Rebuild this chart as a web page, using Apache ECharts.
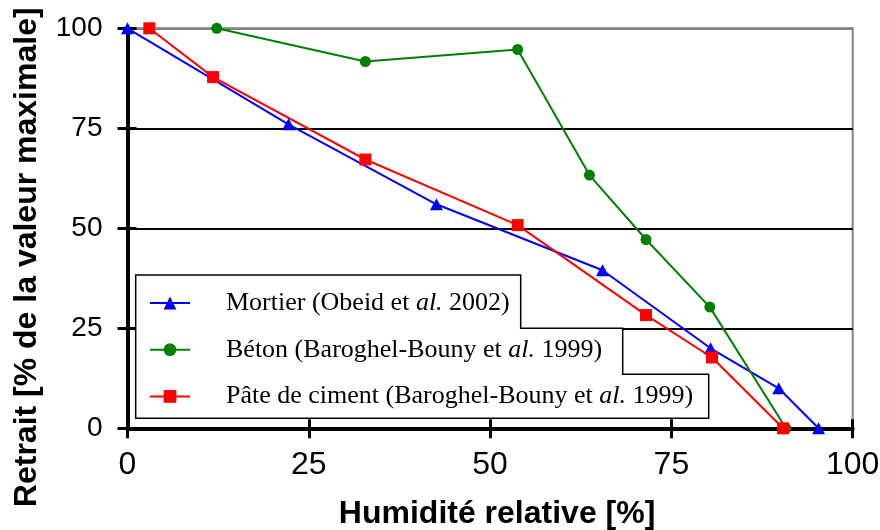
<!DOCTYPE html>
<html>
<head>
<meta charset="utf-8">
<script src="https://cdn.jsdelivr.net/npm/echarts@6/dist/echarts.min.js"></script>
<style>
    html, body { margin: 0; padding: 0; background: #fff; }
    #chart { width: 880px; height: 530px; }
</style>
</head>
<body>
<div id="chart"></div>
<script>
// données
const seriesNames = [
    'Mortier (Obeid et al. 2002)',
    'Béton (Baroghel-Bouny et al. 1999)',
    'Pâte de ciment (Baroghel-Bouny et al. 1999)'
];
const mortierX = [0, 22.2, 42.6, 65.5, 80.4, 89.8, 95.3];
const mortierY = [100, 76, 56, 39.5, 20, 10, 0];
const betonX = [12.3, 32.8, 53.8, 63.7, 71.5, 80.3, 90.8];
const betonY = [100, 91.7, 94.7, 63.3, 47.2, 30.3, 0];
const pateX = [3, 11.8, 32.8, 53.8, 71.5, 80.6, 90.4];
const pateY = [100, 87.8, 67.2, 50.8, 28.3, 17.7, 0];
const axisTicks = [0, 25, 50, 75, 100];

const pairs = (xs, ys) => xs.map((x, i) => [x, ys[i]]);

const sans = '"Liberation Sans", Arial, sans-serif';
const serif = '"Liberation Serif", "Times New Roman", serif';

const chart = echarts.init(document.getElementById('chart'), null, { renderer: 'canvas' });

//axe commun
const baseAxis = {
    type: 'value',
    min: axisTicks[0],
    max: axisTicks[axisTicks.length - 1],
    interval: axisTicks[1] - axisTicks[0],
};

//série
const makeSeries = (name, data, color, symbol, size) => ({
    name,
    type: 'line',
    data,
    clip: false,
    symbol,
    symbolSize: size,
    color,
    lineStyle: { color, width: 2 },
    itemStyle: { color },
    emphasis: { disabled: true },
    z: 3,
});

chart.setOption({
    animation: false,
    backgroundColor: '#fff',
    grid: {
        left: 127.5,
        right: 27.3,
        top: 28.3,
        bottom: 101.7,
        outerBoundsMode: 'none',
        containLabel: false,
        show: true,
        borderColor: '#808080',
        borderWidth: 2,
        backgroundColor: '#fff',
    },
    legend: {
        data: seriesNames,
        orient: 'vertical',
        left: 149,
        top: 289,
        padding: 0,
        itemWidth: 40,
        itemHeight: 16,
        itemGap: 18.7,
        z: 5,
        formatter: name => '{n|' + name.replace(' al.', ' }{i|al.}{n|') + '}',
        textStyle: {
            padding: [0, 0, 0, 31],
            lineHeight: 28,
            rich: {
                n: { fontFamily: serif, fontSize: 26, color: '#000', lineHeight: 28 },
                i: { fontFamily: serif, fontSize: 26, color: '#000', fontStyle: 'italic', lineHeight: 28 },
            },
        },
    },
    //cadre de la légende (en escalier)
    graphic: {
        elements: [{
            type: 'polygon',
            z: 1,
            silent: true,
            shape: {
                points: [
                    [135.7, 275], [520.7, 275], [520.7, 328.3], [622.7, 328.3],
                    [622.7, 374.3], [708.7, 374.3], [708.7, 418.3], [135.7, 418.3]
                ]
            },
            style: { fill: '#fff', stroke: '#000', lineWidth: 1.5 },
        }]
    },
    xAxis: [{
        ...baseAxis,
        name: 'Humidité relative [%]',
        nameLocation: 'middle',
        nameGap: 70,
        nameTextStyle: { fontFamily: sans, fontSize: 32, fontWeight: 'bold', color: '#000', padding: [0, 0, 0, 14] },
        axisLine: { onZero: false, lineStyle: { color: '#000', width: 4 } },
        axisTick: { show: true, length: 10, lineStyle: { color: '#000', width: 3 } },
        axisLabel: { margin: 21, fontFamily: sans, fontSize: 32, color: '#000' },
        splitLine: { show: false },
    }, {
        ...baseAxis,
        position: 'bottom',
        axisLine: { show: false },
        axisTick: { show: true, inside: true, length: 9, lineStyle: { color: '#000', width: 3 } },
        axisLabel: { show: false },
        splitLine: { show: false },
    }],
    yAxis: [{
        ...baseAxis,
        name: 'Retrait [% de la valeur maximale]',
        nameLocation: 'middle',
        nameGap: 84,
        nameTextStyle: { fontFamily: sans, fontSize: 32, fontWeight: 'bold', color: '#000', padding: [0, 58, 0, 0] },
        axisLine: { onZero: false, lineStyle: { color: '#000', width: 4 } },
        axisTick: { show: true, length: 10, lineStyle: { color: '#000', width: 3 } },
        axisLabel: { margin: 25, fontFamily: sans, fontSize: 28, color: '#000' },
        splitLine: {
            show: true,
            lineStyle: { color: ['#000', '#000', '#000', '#000', '#808080'], width: 2 }
        },
    }, {
        ...baseAxis,
        position: 'left',
        axisLine: { show: false },
        axisTick: { show: true, inside: true, length: 9, lineStyle: { color: '#000', width: 3 } },
        axisLabel: { show: false },
        splitLine: { show: false },
    }],
    series: [
        makeSeries(seriesNames[0], pairs(mortierX, mortierY), '#0000ff', 'triangle', [13, 12]),
        makeSeries(seriesNames[1], pairs(betonX, betonY), '#008000', 'circle', 11),
        makeSeries(seriesNames[2], pairs(pateX, pateY), '#ff0000', 'rect', 12),
    ],
});
</script>
</body>
</html>
